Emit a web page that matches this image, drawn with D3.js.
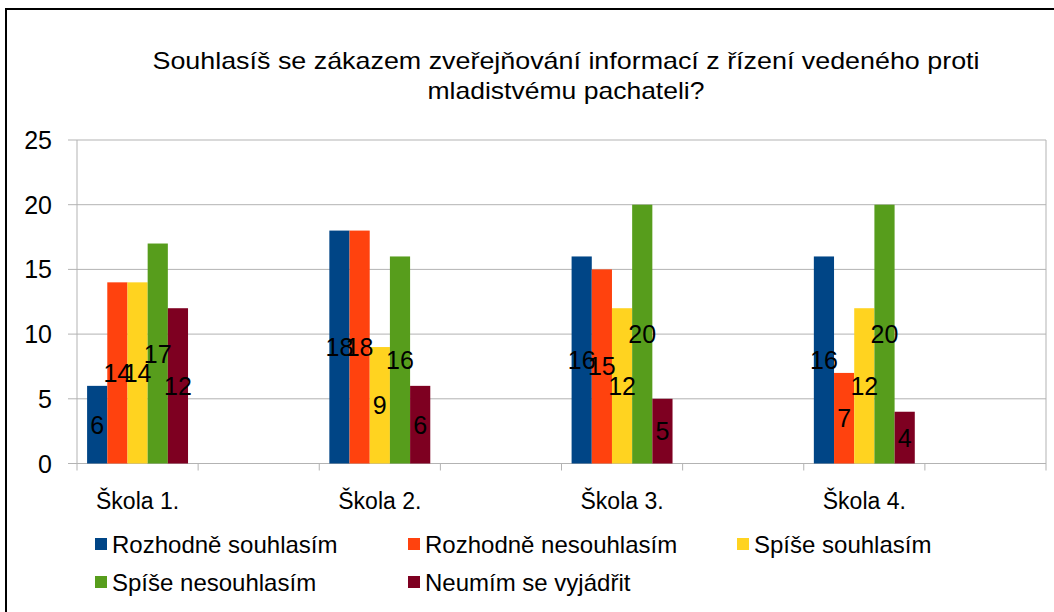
<!DOCTYPE html>
<html>
<head>
<meta charset="UTF-8">
<title>Souhlasíš se zákazem</title>
<script src="https://d3js.org/d3.v7.min.js"></script>
<style>
body { margin: 0; background: #fff; }
text { font-family: "Liberation Sans", Arial, sans-serif; fill: #000; }
</style>
</head>
<body>
<svg width="1054" height="612"></svg>
<script>
// categories (empty slots between schools, as in the original chart)
var categories = ["Škola 1.", "", "Škola 2.", "", "Škola 3.", "", "Škola 4.", ""];
var schools = ["Škola 1.", "Škola 2.", "Škola 3.", "Škola 4."];
var seriesNames = ["Rozhodně souhlasím", "Rozhodně nesouhlasím", "Spíše souhlasím", "Spíše nesouhlasím", "Neumím se vyjádřit"];
var seriesColors = ["#004586", "#ff420e", "#ffd320", "#579d1c", "#7e0021"];
var rozhodneSouhlasim = [6, 18, 16, 16];
var rozhodneNesouhlasim = [14, 18, 15, 7];
var spiseSouhlasim = [14, 9, 12, 12];
var spiseNesouhlasim = [17, 16, 20, 20];
var neumim = [12, 6, 5, 4];
var yTicks = [0, 5, 10, 15, 20, 25];

var values = [rozhodneSouhlasim, rozhodneNesouhlasim, spiseSouhlasim, spiseNesouhlasim, neumim];

var svg = d3.select("svg");
var margin = {top: 140, left: 77, right: 1046, bottom: 463.5};

// outer frame
svg.append("rect")
  .attr("x", 6).attr("y", 9)
  .attr("width", 1100).attr("height", 700)
  .attr("fill", "none").attr("stroke", "#000").attr("stroke-width", 2);

// title
var title = svg.append("text")
  .attr("text-anchor", "middle")
  .style("font-size", "24px");
title.append("tspan").attr("x", 566).attr("y", 69)
  .attr("textLength", 827).attr("lengthAdjust", "spacingAndGlyphs")
  .text("Souhlasíš se zákazem zveřejňování informací z řízení vedeného proti");
title.append("tspan").attr("x", 566).attr("y", 99)
  .attr("textLength", 277).attr("lengthAdjust", "spacingAndGlyphs")
  .text("mladistvému pachateli?");

var x = d3.scaleBand().domain(d3.range(categories.length))
  .range([margin.left, margin.right]);
var xs = d3.scaleBand().domain(d3.range(seriesNames.length))
  .range([0, x.bandwidth()]).paddingOuter(0.5);
var y = d3.scaleLinear().domain([0, 25]).range([margin.bottom, margin.top]);

// gridlines
svg.append("g").selectAll("line").data(yTicks).enter().append("line")
  .attr("x1", 68).attr("x2", margin.right)
  .attr("y1", function(d) { return y(d); })
  .attr("y2", function(d) { return y(d); })
  .attr("stroke", "#b3b3b3").attr("stroke-width", 1);

// plot borders left/right
svg.append("line").attr("x1", margin.left).attr("x2", margin.left)
  .attr("y1", margin.top).attr("y2", margin.bottom + 7)
  .attr("stroke", "#b3b3b3");
svg.append("line").attr("x1", margin.right).attr("x2", margin.right)
  .attr("y1", margin.top).attr("y2", margin.bottom + 7)
  .attr("stroke", "#b3b3b3");

// x ticks
svg.append("g").selectAll("line").data(d3.range(1, categories.length)).enter().append("line")
  .attr("x1", function(d) { return x(d); })
  .attr("x2", function(d) { return x(d); })
  .attr("y1", margin.bottom).attr("y2", margin.bottom + 7)
  .attr("stroke", "#b3b3b3");

// y labels
svg.append("g").selectAll("text").data(yTicks).enter().append("text")
  .attr("x", 52).attr("y", function(d) { return y(d) + 9; })
  .attr("text-anchor", "end")
  .style("font-size", "25px")
  .text(function(d) { return d; });

// bars
var bars = [];
schools.forEach(function(s, i) {
  values.forEach(function(v, j) {
    bars.push({cat: categories.indexOf(s), series: j, value: v[i]});
  });
});

svg.append("g").selectAll("rect").data(bars).enter().append("rect")
  .attr("x", function(d) { return x(d.cat) + xs(d.series); })
  .attr("y", function(d) { return y(d.value); })
  .attr("width", xs.bandwidth())
  .attr("height", function(d) { return y(0) - y(d.value); })
  .attr("fill", function(d) { return seriesColors[d.series]; });

// data labels
svg.append("g").selectAll("text").data(bars).enter().append("text")
  .attr("x", function(d) { return x(d.cat) + xs(d.series) + xs.bandwidth() / 2; })
  .attr("y", function(d) { return (y(d.value) + y(0)) / 2 + 9; })
  .attr("text-anchor", "middle")
  .style("font-size", "25px")
  .text(function(d) { return d.value; });

// category labels
svg.append("g").selectAll("text").data(schools).enter().append("text")
  .attr("x", function(d) { return x(categories.indexOf(d)) + x.bandwidth() / 2; })
  .attr("y", 509)
  .attr("text-anchor", "middle")
  .style("font-size", "23px")
  .text(function(d) { return d; });

// legend
var legX = [95, 408, 737];
var legY = [544, 582];
var leg = svg.append("g").selectAll("g").data(seriesNames).enter().append("g")
  .attr("transform", function(d, i) {
    return "translate(" + legX[i % 3] + "," + legY[Math.floor(i / 3)] + ")";
  });
leg.append("rect").attr("x", 0).attr("y", -6).attr("width", 12).attr("height", 12)
  .attr("fill", function(d, i) { return seriesColors[i]; });
leg.append("text").attr("x", 17).attr("y", 9)
  .style("font-size", "24px")
  .text(function(d) { return d; });
</script>
</body>
</html>
